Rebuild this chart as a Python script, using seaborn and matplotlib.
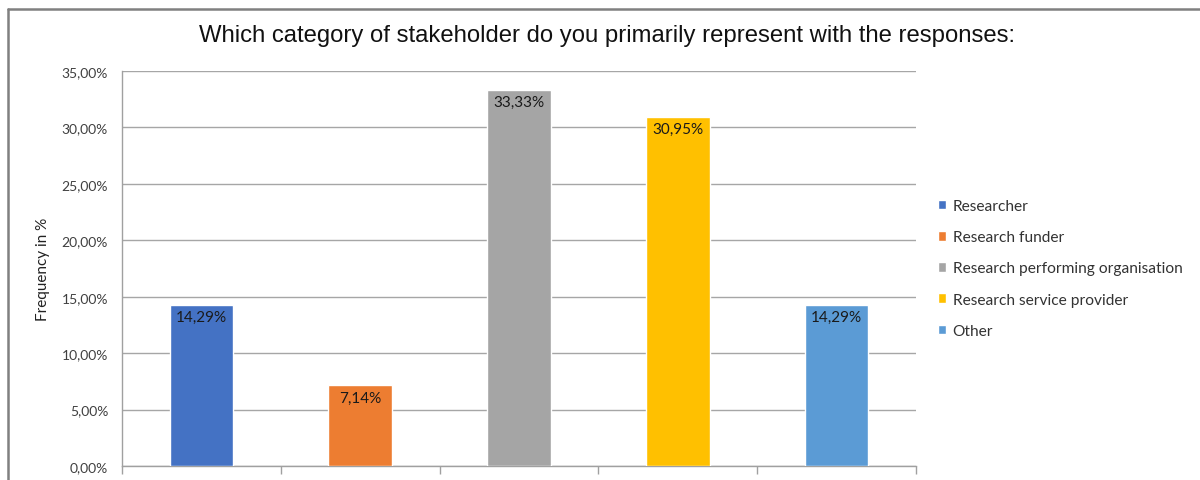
import matplotlib
matplotlib.use("Agg")
import matplotlib.pyplot as plt
import seaborn as sns
import pandas as pd
from matplotlib.lines import Line2D
from matplotlib.ticker import FuncFormatter, FixedLocator

categories = ['Researcher', 'Research funder', 'Research performing organisation',
              'Research service provider', 'Other']
values = [14.29, 7.14, 33.33, 30.95, 14.29]
colors = ['#4472C4', '#ED7D31', '#A5A5A5', '#FFC000', '#5B9BD5']
title = 'Which category of stakeholder do you primarily represent with the responses:'

df = pd.DataFrame({'Category': categories, 'Value': values})

sns.set_style('white')
plt.rcParams['font.family'] = ['Lato', 'DejaVu Sans']

fig = plt.figure(figsize=(12, 4.81), dpi=100)
ax = fig.add_axes([122 / 1200, 1 - 467 / 481, (916 - 122) / 1200, (467 - 72) / 481])

sns.barplot(data=df, x='Category', y='Value', hue='Category', palette=colors,
            saturation=1, width=0.4, ax=ax, legend=True, zorder=3)

ax.set_ylim(0, 35)
ax.set_xlim(-0.5, len(categories) - 0.5)
ax.set_yticks(range(0, 36, 5))
ax.yaxis.set_major_formatter(FuncFormatter(lambda v, p: f'{v:.2f}'.replace('.', ',') + '%'))
ax.xaxis.set_major_locator(FixedLocator([i - 0.5 for i in range(len(categories) + 1)]))
ax.set_xticklabels([])
ax.set_xlabel('')
ax.set_ylabel('Frequency in %', fontsize=11, color='#222222', labelpad=8)
ax.tick_params(axis='y', length=6, width=1, color='#a0a0a0', labelsize=10, labelcolor='#404040', pad=4)
ax.tick_params(axis='x', length=6, width=1, color='#a0a0a0', bottom=True)
ax.grid(axis='y', color='#a6a6a6', linewidth=1, zorder=0)
for s in ['top', 'right']:
    ax.spines[s].set_visible(False)
for s in ['left', 'bottom']:
    ax.spines[s].set_color('#a0a0a0')
    ax.spines[s].set_linewidth(1)

for i, v in enumerate(values):
    ax.text(i, v - 0.45, f'{v:.2f}'.replace('.', ',') + '%', ha='center', va='top',
            fontsize=11, color='#1a1a1a', zorder=4)

handles, labels = ax.get_legend_handles_labels()
leg = ax.legend(handles, labels, loc='center left', bbox_to_anchor=(1.01, 0.5), frameon=False,
                fontsize=11.2, handlelength=0.55, handleheight=0.55, handletextpad=0.4,
                labelspacing=1.1, labelcolor='#333333')

fig.text(0.506, 1 - 36 / 481, title, ha='center', va='center', fontsize=17.2,
         family=['Liberation Sans', 'DejaVu Sans'], color='#111111')

fig.add_artist(Line2D([8 / 1200, 1], [1 - 10 / 481, 1 - 10 / 481], color='#808080', linewidth=1.8))
fig.add_artist(Line2D([8 / 1200, 8 / 1200], [0, 1 - 10 / 481], color='#808080', linewidth=1.8))

fig.savefig('out.png', dpi=100)
